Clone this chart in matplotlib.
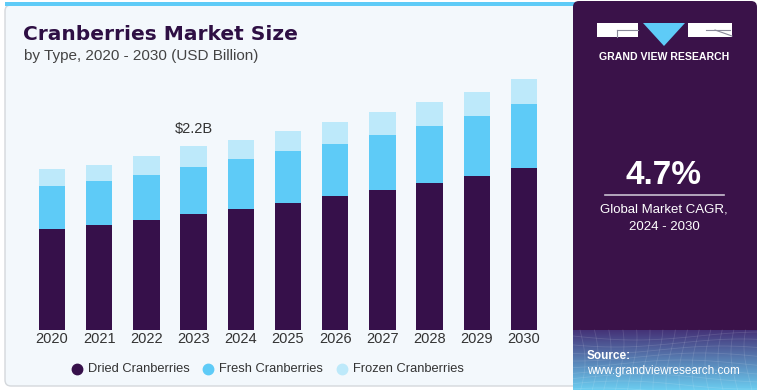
import numpy as np
import matplotlib
matplotlib.use("Agg")
import matplotlib.pyplot as plt
from matplotlib.patches import FancyBboxPatch, Rectangle, Polygon
from matplotlib.lines import Line2D

plt.rcParams['font.family'] = ['Liberation Sans', 'DejaVu Sans']

# data (USD billion)
years = ['2020', '2021', '2022', '2023', '2024', '2025', '2026', '2027', '2028', '2029', '2030']
dried = [1.22, 1.26, 1.32, 1.40, 1.46, 1.53, 1.61, 1.68, 1.77, 1.85, 1.95]
fresh = [0.51, 0.53, 0.55, 0.56, 0.60, 0.62, 0.63, 0.67, 0.69, 0.73, 0.77]
frozen = [0.21, 0.20, 0.22, 0.25, 0.23, 0.24, 0.27, 0.28, 0.28, 0.29, 0.30]
series_names = ['Dried Cranberries', 'Fresh Cranberries', 'Frozen Cranberries']
highlight_year = '2023'
highlight_label = '$2.2B'
cagr = '4.7%'

c_dried = '#36104a'
c_fresh = '#5ecbf7'
c_frozen = '#bde9fa'
c_panel = '#3a1249'

W, H = 760, 391
fig = plt.figure(figsize=(W / 100, H / 100), dpi=100)
fig.patch.set_facecolor('white')

# background layer in pixel coordinates
bg = fig.add_axes([0, 0, 1, 1], zorder=0)
bg.set_xlim(0, W)
bg.set_ylim(H, 0)
bg.axis('off')

bg.add_patch(FancyBboxPatch((5, 5), 575, 381, boxstyle='round,pad=0,rounding_size=6',
                            facecolor='#f3f8fc', edgecolor='#d4d8dc', lw=1))
bg.add_patch(Rectangle((5, 2), 570, 4, facecolor='#5ecbf7', edgecolor='none'))
bg.add_patch(FancyBboxPatch((573, 1), 184, 389, boxstyle='round,pad=0,rounding_size=6',
                            facecolor=c_panel, edgecolor='none'))

# source strip gradient
grad = np.linspace(0, 1, 60)[:, None]
c0 = np.array([0.27, 0.20, 0.47])
c1 = np.array([0.42, 0.80, 0.94])
img = c0[None, None, :] * (1 - grad[..., None]) + c1[None, None, :] * grad[..., None]
img = np.repeat(img, 2, axis=1)
bg.imshow(img, extent=[573, 757, 390, 330], aspect='auto', zorder=2)
for k in range(9):
    xs = np.linspace(573, 757, 50)
    bg.plot(xs, 336 + k * 7 + 4 * np.sin((xs - 573) / 40 + k * 0.5), color='white', alpha=0.12, lw=0.6, zorder=3)
for k in range(14):
    x0 = 580 + k * 13
    ys = np.linspace(330, 390, 20)
    bg.plot(x0 + 5 * np.sin((ys - 330) / 20 + k * 0.3), ys, color='white', alpha=0.12, lw=0.6, zorder=3)

# logo
bg.add_patch(Rectangle((597, 23), 41, 14, facecolor='white', edgecolor='none', zorder=4))
bg.add_patch(Rectangle((688, 23), 44, 14, facecolor='white', edgecolor='none', zorder=4))
bg.add_patch(Polygon([(643, 23), (685, 23), (664, 46)], closed=True, facecolor='#5ecbf7', edgecolor='none', zorder=4))
bg.add_line(Line2D([617, 638], [30, 30], color='#8a8a9a', lw=0.8, zorder=5))
bg.add_line(Line2D([617, 617], [30, 37], color='#8a8a9a', lw=0.8, zorder=5))
bg.add_line(Line2D([706, 730], [30, 30], color='#8a8a9a', lw=0.8, zorder=5))
bg.add_line(Line2D([715, 732], [30, 36], color='#8a8a9a', lw=0.8, zorder=5))
bg.text(664, 57, 'GRAND VIEW RESEARCH', color='white', fontsize=7.6, fontweight='bold',
        ha='center', va='center', zorder=5)

# CAGR block
bg.text(664, 176, cagr, color='white', fontsize=24, fontweight='bold', ha='center', va='center', zorder=5)
bg.add_line(Line2D([605, 724], [195, 195], color='#c8c0d0', lw=1.2, zorder=5))
bg.text(664, 210, 'Global Market CAGR,', color='white', fontsize=9.5, ha='center', va='center', zorder=5)
bg.text(664, 227, '2024 - 2030', color='white', fontsize=9.5, ha='center', va='center', zorder=5)

bg.text(587, 356, 'Source:', color='white', fontsize=8.5, fontweight='bold', ha='left', va='center', zorder=5)
bg.text(587, 371, 'www.grandviewresearch.com', color='white', fontsize=8.5, ha='left', va='center', zorder=5)

# titles
bg.text(23, 34, 'Cranberries Market Size', color='#2e0f44', fontsize=14.5, fontweight='bold',
        family='DejaVu Sans', ha='left', va='center', zorder=5)
bg.text(24, 56, 'by Type, 2020 - 2030 (USD Billion)', color='#444444', fontsize=11,
        ha='left', va='center', zorder=5)

# chart axes
base_px, top_px = 330, 60
per_px = 0.01204
ax = fig.add_axes([0, 1 - base_px / H, 573 / W, (base_px - top_px) / H], zorder=1)
ax.patch.set_alpha(0)
x = np.arange(len(years))
ax.set_xlim(-52 / 47.2, (573 - 52) / 47.2)
ax.set_ylim(0, (base_px - top_px) * per_px)
ax.axis('off')

w = 0.56
d = np.array(dried)
f = np.array(fresh)
z = np.array(frozen)
ax.bar(x, d, width=w, color=c_dried, label=series_names[0])
ax.bar(x, f, width=w, bottom=d, color=c_fresh, label=series_names[1])
ax.bar(x, z, width=w, bottom=d + f, color=c_frozen, label=series_names[2])

i = years.index(highlight_year)
ax.text(x[i], d[i] + f[i] + z[i] + 0.13, highlight_label, ha='center', va='bottom',
        fontsize=10.5, color='#333333')

for xi, yr in zip(x, years):
    ax.text(xi, -0.02, yr, ha='center', va='top', fontsize=10.5, color='#333333', clip_on=False)

# legend
leg_y = 369
for xm, name, col in zip([77, 208, 342], series_names, [c_dried, c_fresh, c_frozen]):
    bg.plot(xm, leg_y, 'o', ms=7.5, color=col, zorder=5)
    bg.text(xm + 11, leg_y, name, ha='left', va='center', fontsize=9.3, color='#333333', zorder=5)

fig.savefig('out.png', dpi=100)
